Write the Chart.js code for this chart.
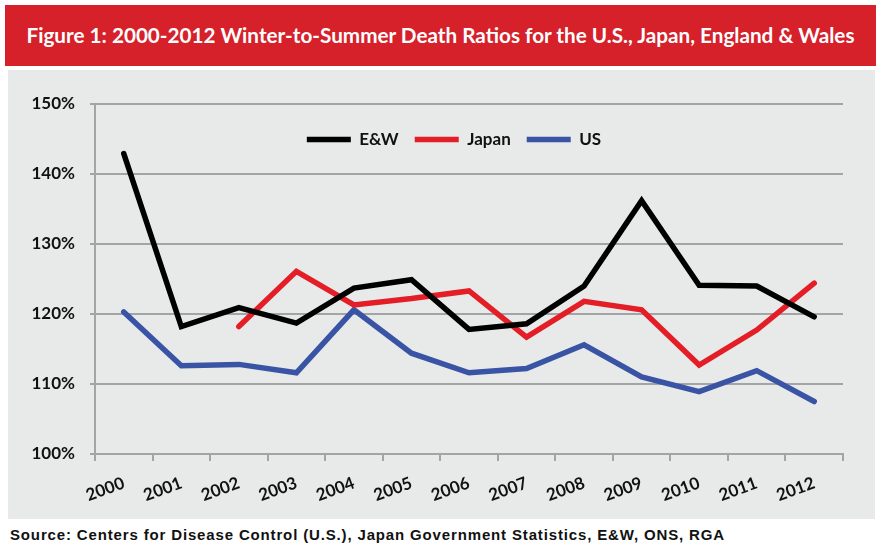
<!DOCTYPE html>
<html lang="en">
<head>
    <meta charset="UTF-8">
    <title>Winter-to-Summer Death Ratios</title>
    <style>
        body {
            margin: 0;
            padding: 0;
            width: 881px;
            height: 555px;
            background: #fff;
            position: relative;
            overflow: hidden;
        }
        .banner {
            position: absolute;
            left: 5px; top: 5px;
            width: 871px; height: 61px;
            background: #d6202a;
            color: #fff;
            font-family: Lato, sans-serif;
            font-weight: 700;
            font-size: 20.7px;
            line-height: 61px;
            text-align: center;
        }
        .panel {
            position: absolute;
            left: 8px; top: 70px;
            width: 867px; height: 449px;
            background: #e8e9e9;
        }
        .source {
            position: absolute;
            left: 10px; top: 526px;
            font-family: "Liberation Sans", Arial, sans-serif;
            font-weight: 700;
            font-size: 15px;
            letter-spacing: 0.85px;
            color: #111;
        }
    </style>
</head>
<body>
    <div class="banner">Figure 1: 2000-2012 Winter-to-Summer Death Ratios for the U.S., Japan, England &amp; Wales</div>
    <div class="panel"><canvas id="ratioChart" width="867" height="449"></canvas></div>
    <div class="source">Source: Centers for Disease Control (U.S.), Japan Government Statistics, E&amp;W, ONS, RGA</div>

    <script src="https://cdn.jsdelivr.net/npm/chart.js"></script>
    <script>
        // values (ratio, in %)
        var years = ['2000', '2001', '2002', '2003', '2004', '2005', '2006', '2007', '2008', '2009', '2010', '2011', '2012'];
        var ewRatio = [142.9, 118.2, 120.9, 118.7, 123.7, 124.9, 117.8, 118.6, 124.0, 136.2, 124.1, 124.0, 119.6];
        var japanRatio = [null, null, 118.2, 126.1, 121.3, 122.2, 123.3, 116.7, 121.8, 120.6, 112.7, 117.7, 124.4];
        var usRatio = [120.3, 112.6, 112.8, 111.6, 120.6, 114.4, 111.6, 112.2, 115.6, 111.0, 108.9, 111.9, 107.5];
        var yTicks = [100, 110, 120, 130, 140, 150];

        var gridGray = '#a3a4a6';
        var labelFont = { family: 'Lato, sans-serif', size: 17, weight: 'bold' };

        function series(label, values, color) {
            return {
                label: label,
                data: values,
                borderColor: color,
                backgroundColor: color,
                borderWidth: 5.5,
                borderCapStyle: 'round',
                borderJoinStyle: 'miter',
                pointRadius: 0,
                tension: 0,
                spanGaps: false
            };
        }

        // move the legend from the top strip into the plot, like the original
        var legendInPlot = {
            id: 'legendInPlot',
            afterLayout: function(chart) {
                var lg = chart.legend;
                if (!lg) return;
                var centre = 454;
                lg.top = 45;
                lg.bottom = 100;
                lg.left = centre - 300;
                lg.right = centre + 300 - lg.options.labels.padding;
                lg.width = lg.right - lg.left;
                lg.height = lg.bottom - lg.top;
            }
        };

        var ctx = document.getElementById('ratioChart').getContext('2d');
        var chart = new Chart(ctx, {
            type: 'line',
            data: {
                labels: years,
                datasets: [
                    series('E&W', ewRatio, '#000000'),
                    series('Japan', japanRatio, '#e31e26'),
                    series('US', usRatio, '#3a54a5')
                ]
            },
            plugins: [legendInPlot],
            options: {
                responsive: false,
                animation: false,
                layout: { padding: { left: 0, right: 32, top: 34, bottom: 0 } },
                plugins: {
                    title: { display: false },
                    tooltip: { enabled: false },
                    legend: {
                        position: 'top',
                        align: 'center',
                        labels: {
                            usePointStyle: true,
                            pointStyle: 'line',
                            pointStyleWidth: 44,
                            boxHeight: 5,
                            padding: 16,
                            color: '#111',
                            font: labelFont
                        }
                    }
                },
                scales: {
                    x: {
                        offset: true,
                        grid: {
                            offset: true,
                            drawOnChartArea: false,
                            drawTicks: true,
                            tickLength: 7,
                            color: gridGray,
                            lineWidth: 2
                        },
                        border: { color: gridGray, width: 2 },
                        ticks: {
                            color: '#111',
                            font: labelFont,
                            minRotation: 20,
                            maxRotation: 20,
                            padding: 12
                        },
                        afterFit: function(scale) { scale.height = 65; }
                    },
                    y: {
                        min: yTicks[0],
                        max: yTicks[yTicks.length - 1],
                        afterBuildTicks: function(scale) {
                            scale.ticks = yTicks.map(function(v) { return { value: v }; });
                        },
                        grid: {
                            color: gridGray,
                            lineWidth: 2,
                            tickLength: 5
                        },
                        border: { color: gridGray, width: 2 },
                        ticks: {
                            color: '#111',
                            font: labelFont,
                            padding: 15,
                            callback: function(v) { return v + '%'; }
                        },
                        afterFit: function(scale) { scale.width = 87; }
                    }
                }
            }
        });

        // keep the legend from taking room above the plot
        var baseFit = chart.legend.fit;
        chart.legend.fit = function() {
            baseFit.apply(this, arguments);
            if (this.isHorizontal()) this.height = 0;
        };
        chart.update();
    </script>
</body>
</html>
